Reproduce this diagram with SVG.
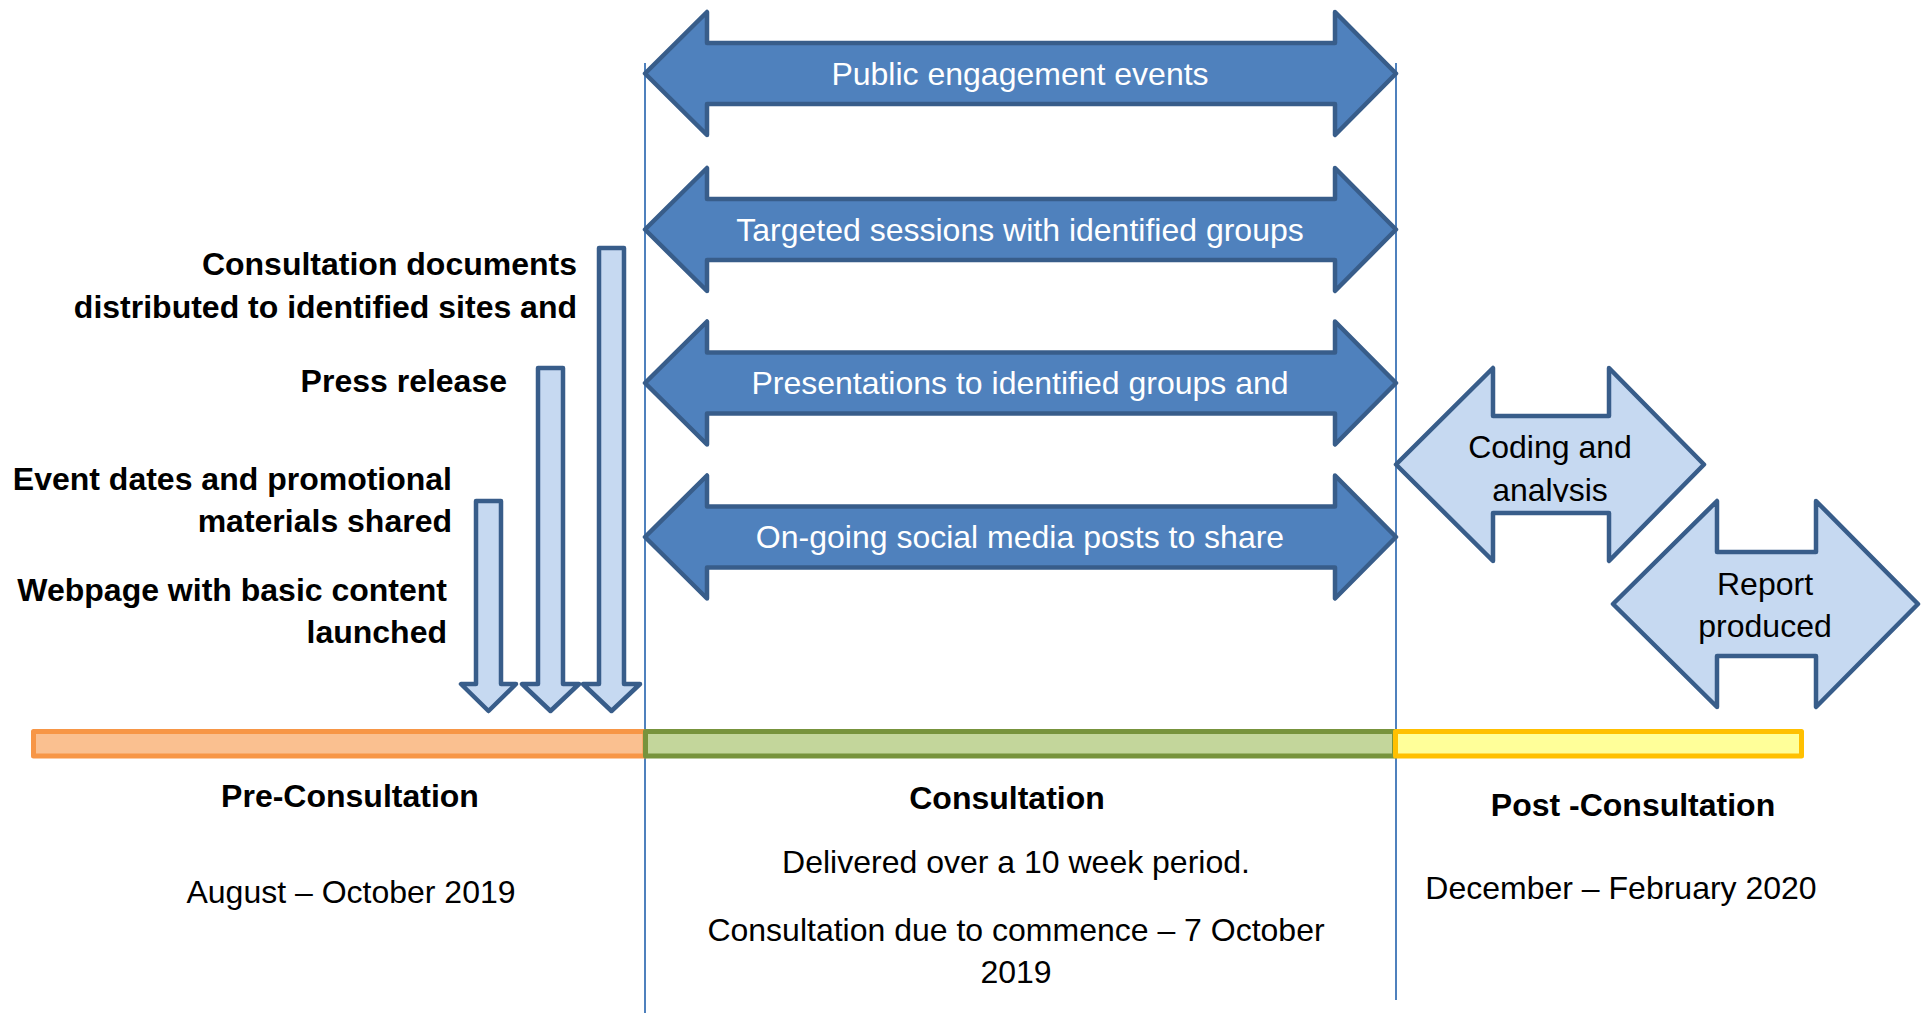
<svg xmlns="http://www.w3.org/2000/svg" width="1925" height="1013" viewBox="0 0 1925 1013">
  <style>
    text { font-family: "Liberation Sans", Arial, sans-serif; font-size: 32px; }
    .dark { fill: #4F81BD; stroke: #385D8A; stroke-width: 4.5; stroke-linejoin: round; }
    .light { fill: #C6D9F1; stroke: #385D8A; stroke-width: 4.5; stroke-linejoin: round; }
    .wt { fill: #FFFFFF; text-anchor: middle; }
    .bt { fill: #000000; text-anchor: middle; }
    .lbl { fill: #000000; font-weight: bold; text-anchor: end; }
    .hd { fill: #000000; font-weight: bold; text-anchor: middle; }
    .guide { stroke: #4F81BD; stroke-width: 2; fill: none; }
  </style>
  <defs>
    <clipPath id="codingClip"><rect x="1400" y="360" width="310" height="142"/></clipPath>
  </defs>
  <rect width="1925" height="1013" fill="#FFFFFF"/>

  <g id="connectors">
    <line class="guide" x1="645" y1="63" x2="645" y2="1013"/>
    <line class="guide" x1="1396" y1="63" x2="1396" y2="1000"/>
  </g>

  <g id="public-engagement">
    <polygon class="dark" points="645,73.5 707,12 707,43 1335,43 1335,12 1396,73.5 1335,135 1335,104 707,104 707,135"/>
    <text class="wt" x="1020" y="85">Public engagement events</text>
  </g>
  <g id="targeted-sessions">
    <polygon class="dark" points="645,229.5 707,168 707,199 1335,199 1335,168 1396,229.5 1335,291 1335,260 707,260 707,291"/>
    <text class="wt" x="1020" y="241">Targeted sessions with identified groups</text>
  </g>
  <g id="presentations">
    <polygon class="dark" points="645,383 707,321.5 707,352.5 1335,352.5 1335,321.5 1396,383 1335,444.5 1335,413.5 707,413.5 707,444.5"/>
    <text class="wt" x="1020" y="394">Presentations to identified groups and</text>
  </g>
  <g id="social-media">
    <polygon class="dark" points="645,537 707,475.5 707,506.5 1335,506.5 1335,475.5 1396,537 1335,598.5 1335,567.5 707,567.5 707,598.5"/>
    <text class="wt" x="1020" y="548">On-going social media posts to share</text>
  </g>

  <g id="coding-analysis">
    <polygon class="light" points="1396,464.5 1493,368 1493,416 1609,416 1609,368 1704,464.5 1609,561 1609,513 1493,513 1493,561"/>
    <g clip-path="url(#codingClip)">
      <text class="bt" x="1550" y="458">Coding and</text>
      <text class="bt" x="1550" y="501">analysis</text>
    </g>
  </g>
  <g id="report-produced">
    <polygon class="light" points="1613,604 1717,501 1717,552 1816,552 1816,501 1918,604 1816,707 1816,656 1717,656 1717,707"/>
    <text class="bt" x="1765" y="595">Report</text>
    <text class="bt" x="1765" y="637">produced</text>
  </g>

  <g id="webpage-launched">
    <polygon class="light" points="476,501 501,501 501,684 516,684 488.5,711 461,684 476,684"/>
    <text class="lbl" x="447" y="601">Webpage with basic content</text>
    <text class="lbl" x="447" y="643">launched</text>
  </g>
  <g id="event-dates">
    <text class="lbl" x="452" y="490">Event dates and promotional</text>
    <text class="lbl" x="452" y="532">materials shared</text>
  </g>
  <g id="press-release">
    <polygon class="light" points="538,368 563,368 563,684 579,684 550.5,711 522,684 538,684"/>
    <text class="lbl" x="507" y="392">Press release</text>
  </g>
  <g id="consultation-documents">
    <polygon class="light" points="599,248 624,248 624,684 640,684 611.5,711 583,684 599,684"/>
    <text class="lbl" x="577" y="275">Consultation documents</text>
    <text class="lbl" x="577" y="318">distributed to identified sites and</text>
  </g>

  <g id="pre-consultation">
    <rect x="33.5" y="731.5" width="611.5" height="24.5" fill="#FAC090" stroke="#F79646" stroke-width="5" stroke-linejoin="round"/>
    <text class="hd" x="350" y="807">Pre-Consultation</text>
    <text class="bt" x="351" y="903">August – October 2019</text>
  </g>
  <g id="consultation">
    <rect x="645.5" y="731.5" width="749" height="24.5" fill="#C3D69B" stroke="#77933C" stroke-width="5" stroke-linejoin="round"/>
    <text class="hd" x="1007" y="809">Consultation</text>
    <text class="bt" x="1016" y="873">Delivered over a 10 week period.</text>
    <text class="bt" x="1016" y="941">Consultation due to commence – 7 October</text>
    <text class="bt" x="1016" y="983">2019</text>
  </g>
  <g id="post-consultation">
    <rect x="1395.5" y="731.5" width="406" height="24.5" fill="#FFFF99" stroke="#FFC000" stroke-width="5" stroke-linejoin="round"/>
    <text class="hd" x="1633" y="816">Post -Consultation</text>
    <text class="bt" x="1621" y="899">December – February 2020</text>
  </g>
</svg>
